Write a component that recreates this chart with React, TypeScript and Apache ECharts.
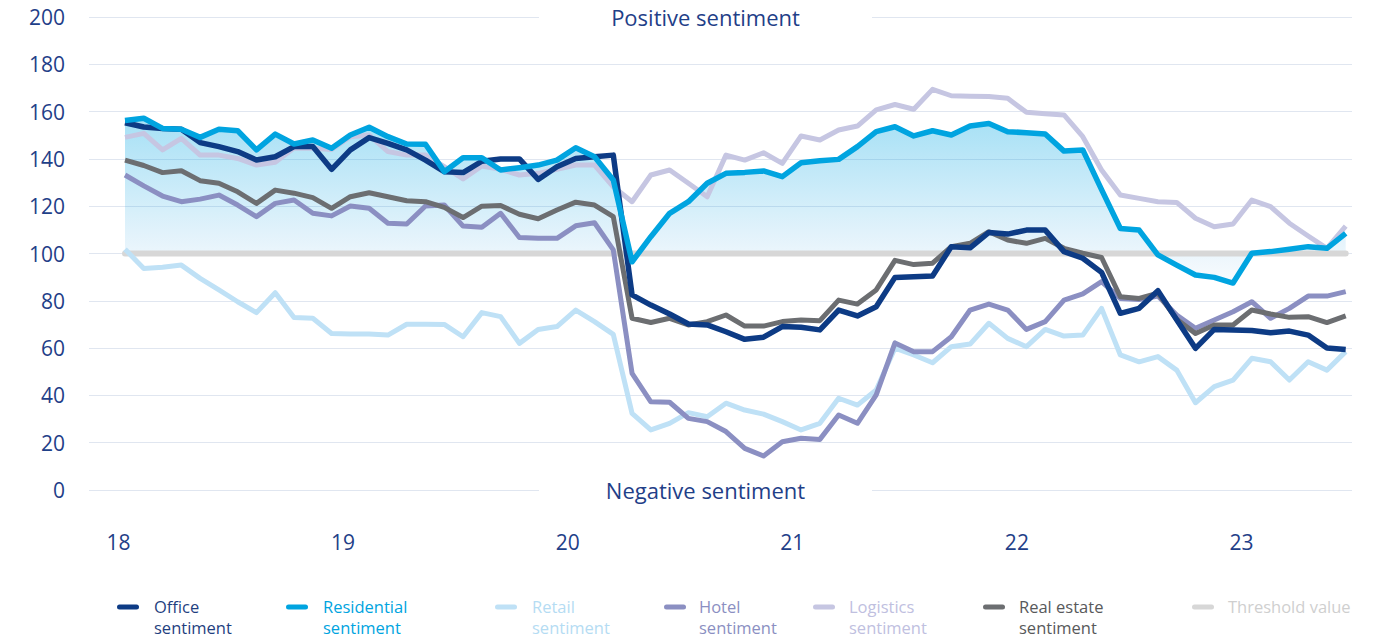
import React, { useEffect, useRef } from "react";
import * as echarts from "echarts";

// ---------- data (monthly, Jan 2018 – Jun 2023) ----------
const yearLabels = ["18", "19", "20", "21", "22", "23"];
const thresholdValue = 100;

const office = [
  155.3, 153.5, 152.9, 152.5, 146.9, 145.2, 143.1, 139.5, 140.9, 145.2, 145.2, 135.6,
  143.8, 149.0, 146.6, 143.8, 139.5, 134.6, 134.2, 139.0, 140.0, 140.0, 131.3, 136.7,
  140.2, 140.9, 141.6, 82.5, 78.2, 74.4, 70.2, 69.8, 66.9, 63.7, 64.6, 69.1,
  68.8, 67.7, 76.1, 73.6, 77.5, 89.9, 90.2, 90.5, 102.9, 102.4, 108.9, 108.2,
  109.9, 109.9, 100.8, 98.0, 92.0, 74.7, 76.8, 84.3, 72.0, 59.9, 67.9, 67.7,
  67.4, 66.5, 67.2, 65.5, 60.0, 59.4,
];
const residential = [
  156.2, 157.2, 152.9, 152.5, 149.1, 152.5, 151.9, 143.8, 150.5, 146.3, 148.0, 144.5,
  150.1, 153.4, 149.4, 146.3, 146.2, 134.6, 140.5, 140.5, 135.3, 136.3, 137.4, 139.5,
  144.7, 140.9, 131.1, 96.5, 107.1, 117.0, 121.9, 129.7, 133.9, 134.3, 134.9, 132.5,
  138.4, 139.2, 139.8, 145.2, 151.5, 153.6, 149.7, 151.9, 150.1, 153.9, 155.0, 151.5,
  151.1, 150.5, 143.3, 143.8, 127.0, 110.6, 109.9, 99.4, 95.1, 90.9, 89.9, 87.5,
  100.1, 100.8, 101.8, 102.9, 102.2, 108.5,
];
const retail = [
  101.8, 93.7, 94.2, 95.1, 89.5, 84.6, 79.6, 75.0, 83.4, 72.9, 72.6, 66.2,
  66.0, 66.0, 65.5, 70.1, 70.1, 70.0, 64.8, 75.0, 73.3, 62.0, 67.9, 69.1,
  76.1, 71.2, 65.8, 32.4, 25.4, 28.2, 32.7, 31.0, 36.7, 33.8, 32.1, 28.9,
  25.4, 28.2, 38.8, 35.9, 42.3, 60.0, 57.1, 53.8, 60.6, 61.7, 70.5, 64.1,
  60.6, 67.9, 65.1, 65.5, 76.8, 57.1, 54.2, 56.4, 50.7, 36.9, 43.7, 46.5,
  55.7, 54.2, 46.5, 54.2, 50.7, 58.5,
];
const hotel = [
  133.2, 128.6, 124.3, 121.9, 123.0, 124.7, 120.5, 115.6, 121.2, 122.6, 117.0, 115.9,
  120.1, 119.1, 112.8, 112.5, 120.1, 120.5, 111.6, 111.1, 117.0, 106.8, 106.4, 106.4,
  111.7, 113.0, 101.5, 49.3, 37.3, 37.1, 30.3, 28.9, 24.7, 17.6, 14.4, 20.4,
  21.9, 21.4, 31.7, 28.2, 40.2, 62.2, 58.5, 58.5, 64.8, 76.1, 78.6, 76.1,
  67.9, 71.2, 80.3, 82.9, 88.1, 81.0, 80.5, 82.0, 74.0, 68.4, 71.9, 75.4,
  79.6, 72.6, 76.8, 82.0, 82.0, 83.9,
];
const logistics = [
  149.1, 150.8, 143.8, 148.7, 141.6, 141.6, 140.2, 137.4, 138.6, 144.6, 144.5, 144.0,
  149.4, 150.1, 143.1, 141.6, 141.6, 136.7, 131.5, 137.0, 135.6, 133.2, 133.9, 135.6,
  137.4, 137.4, 128.2, 121.9, 133.2, 135.3, 129.7, 124.0, 141.6, 139.5, 142.6, 138.1,
  149.7, 148.0, 152.2, 153.9, 160.7, 163.0, 161.0, 169.4, 166.7, 166.5, 166.4, 165.6,
  159.7, 159.1, 158.6, 149.4, 135.3, 124.7, 123.3, 121.9, 121.6, 114.9, 111.3, 112.5,
  122.6, 119.8, 112.8, 107.4, 102.2, 111.6,
];
const realEstate = [
  139.5, 137.2, 134.2, 135.0, 130.8, 129.7, 126.1, 121.2, 126.8, 125.5, 123.6, 119.1,
  124.0, 125.7, 124.0, 122.3, 121.9, 119.5, 115.2, 120.0, 120.3, 116.6, 114.7, 118.4,
  121.7, 120.5, 115.6, 72.6, 70.8, 72.6, 69.8, 71.2, 74.0, 69.3, 69.3, 71.2,
  71.9, 71.6, 80.3, 78.6, 84.6, 97.1, 95.3, 95.9, 102.9, 104.3, 109.2, 105.7,
  104.3, 106.4, 102.2, 100.1, 98.3, 81.7, 81.0, 83.2, 72.2, 66.2, 69.8, 69.8,
  76.1, 74.4, 73.0, 73.3, 70.8, 73.6,
];

const seriesNames = [
  "Office sentiment",
  "Residential sentiment",
  "Retail sentiment",
  "Hotel sentiment",
  "Logistics sentiment",
  "Real estate sentiment",
  "Threshold value",
];

// ---------- styling ----------
const FONT = "'Open Sans', 'Noto Sans', sans-serif";
const NAVY = "#1f4088";
const lineColors = ["#0d3b85", "#00a4e0", "#bfe1f6", "#8b8fc2", "#c6c6e2", "#6c6e71", "#d7d7d7"];
const textColors = ["#1f3f7f", "#00a4e0", "#b5dcf3", "#8b8fc2", "#c0c0df", "#58595b", "#cfcfcf"];
const legendMarkerX = [117, 286, 495, 664, 813, 983, 1192];
const legendTextX = [154, 323, 532, 699, 849, 1019, 1228];
const LABEL_SHIFT = 0.35;

const toPairs = (arr: number[]) => arr.map((v, i) => [i, v]);

export default function App() {
  const ref = useRef<HTMLDivElement>(null);

  useEffect(() => {
    if (!ref.current) return;
    const chart = echarts.init(ref.current, null, { renderer: "svg" });
    const n = office.length;
    const threshold = office.map(() => thresholdValue);

    const mkLine = (name: string, data: number[], color: string, width = 5, z = 3) => ({
      name,
      type: "line",
      data: toPairs(data),
      showSymbol: false,
      symbol: "none",
      z,
      lineStyle: { color, width, join: "round" },
      itemStyle: { color },
      emphasis: { disabled: true },
    });

    const legendGraphics: any[] = [];
    seriesNames.forEach((nm, k) => {
      legendGraphics.push({
        type: "rect",
        z: 100,
        shape: { x: legendMarkerX[k], y: 604.5, width: 22, height: 5, r: 2.5 },
        style: { fill: lineColors[k] },
      });
      legendGraphics.push({
        type: "text",
        z: 100,
        x: legendTextX[k],
        y: 596,
        style: {
          text: nm.replace(" sentiment", "\nsentiment"),
          fill: textColors[k],
          font: `16.5px ${FONT}`,
          lineHeight: 21,
          textAlign: "left",
          textVerticalAlign: "top",
        },
      });
    });

    const option: any = {
      animation: false,
      grid: { left: 89, right: 27, top: 17, bottom: 148, containLabel: false },
      xAxis: {
        type: "value",
        min: -1.917,
        max: n - 1 + 0.335,
        axisLine: { show: false },
        axisTick: { show: false },
        splitLine: { show: false },
        axisLabel: {
          customValues: yearLabels.map((_, k) => k * 12 - LABEL_SHIFT - k * 0.04),
          formatter: (v: number) => yearLabels[Math.round((v + LABEL_SHIFT) / 12)] ?? "",
          margin: 41,
          color: NAVY,
          fontSize: 21,
          fontFamily: FONT,
        },
      },
      yAxis: {
        type: "value",
        min: 0,
        max: 200,
        interval: 20,
        axisLine: { show: false },
        axisTick: { show: false },
        axisLabel: { margin: 24, color: NAVY, fontSize: 21, fontFamily: FONT },
        splitLine: { lineStyle: { color: "#e0e6f0", width: 1 } },
      },
      series: [
        {
          name: "area",
          type: "line",
          data: toPairs(residential),
          showSymbol: false,
          symbol: "none",
          z: 1,
          lineStyle: { width: 0 },
          areaStyle: {
            origin: thresholdValue,
            color: new echarts.graphic.LinearGradient(
              0, 118, 0, 285,
              [
                { offset: 0, color: "rgba(0,168,228,0.50)" },
                { offset: 0.55, color: "rgba(10,160,225,0.24)" },
                { offset: 1, color: "rgba(40,140,220,0.04)" },
              ],
              true
            ),
          },
          emphasis: { disabled: true },
          silent: true,
        },
        { ...mkLine(seriesNames[6], threshold, lineColors[6], 6, 2), lineStyle: { color: lineColors[6], width: 6, cap: "round" } },
        mkLine(seriesNames[2], retail, lineColors[2]),
        mkLine(seriesNames[4], logistics, lineColors[4]),
        mkLine(seriesNames[3], hotel, lineColors[3]),
        mkLine(seriesNames[5], realEstate, lineColors[5]),
        mkLine(seriesNames[0], office, lineColors[0], 5.5),
        mkLine(seriesNames[1], residential, lineColors[1], 5.5),
      ],
      graphic: [
        { type: "rect", z: 100, shape: { x: 539, y: 13, width: 333, height: 8 }, style: { fill: "#ffffff" } },
        { type: "rect", z: 100, shape: { x: 539, y: 486, width: 333, height: 8 }, style: { fill: "#ffffff" } },
        {
          type: "text", z: 101, x: 705.5, y: 17,
          style: { text: "Positive sentiment", fill: NAVY, font: `22px ${FONT}`, textAlign: "center", textVerticalAlign: "middle" },
        },
        {
          type: "text", z: 101, x: 705.5, y: 490,
          style: { text: "Negative sentiment", fill: NAVY, font: `22px ${FONT}`, textAlign: "center", textVerticalAlign: "middle" },
        },
        ...legendGraphics,
      ],
    };
    chart.setOption(option);
    return () => chart.dispose();
  }, []);

  return (
    <div
      ref={ref}
      style={{ position: "fixed", left: 0, top: 0, width: 1379, height: 638, background: "#ffffff" }}
    />
  );
}
